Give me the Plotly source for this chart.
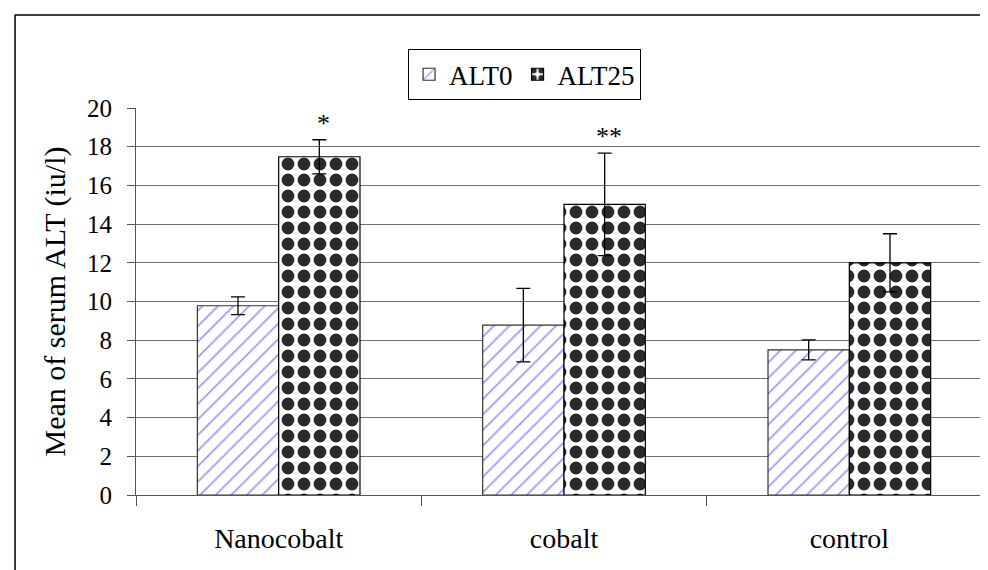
import plotly.graph_objects as go

categories = ["Nanocobalt", "cobalt", "control"]
alt0_values = [9.78, 8.78, 7.5]
alt0_errors = [0.46, 1.9, 0.52]
alt25_values = [17.48, 15.02, 12.0]
alt25_errors = [0.88, 2.65, 1.5]
significance = ["*", "**", ""]
y_ticks = [0, 2, 4, 6, 8, 10, 12, 14, 16, 18, 20]

FONT = "Liberation Serif"

fig = go.Figure()
fig.add_trace(go.Bar(
    name="ALT0", x=categories, y=alt0_values,
    error_y=dict(type="data", array=alt0_errors, color="black", thickness=1.3, width=7),
    marker=dict(color="white", line=dict(color="#333333", width=1.2),
                pattern=dict(shape="/", fgcolor="#9898ff", bgcolor="white", fgopacity=1,
                             size=11, solidity=0.15)),
))
fig.add_trace(go.Bar(
    name="ALT25", x=categories, y=alt25_values,
    error_y=dict(type="data", array=alt25_errors, color="black", thickness=1.3, width=7),
    marker=dict(color="white", line=dict(color="black", width=1.2),
                pattern=dict(shape=".", fgcolor="#2a2a2a", bgcolor="white", fgopacity=1,
                             size=16, solidity=0.5)),
))

plot_w = 988 - 128 - 3.5
plot_h = 387
bar_px = plot_w / 3 * (1 - 0.43) / 2
for cat, v, e, s in zip(categories, alt25_values, alt25_errors, significance):
    if s:
        fig.add_annotation(x=cat, y=v + e, text=s, showarrow=False, xref="x", yref="y",
                           xshift=bar_px / 2 + 4, yanchor="bottom", yshift=0,
                           font=dict(family=FONT, size=26, color="black"))

# outer frame
fig.add_shape(type="rect", xref="paper", yref="paper",
              x0=(7 - 128) / plot_w, x1=1.05, y0=-0.4, y1=1 + (100 - 7) / plot_h,
              line=dict(color="black", width=1.5), fillcolor="rgba(0,0,0,0)", layer="below")

fig.update_layout(
    width=988, height=570,
    margin=dict(l=128, r=3.5, t=100, b=83),
    paper_bgcolor="white", plot_bgcolor="white",
    barmode="group", bargap=0.43, bargroupgap=0,
    font=dict(family=FONT, color="black"),
    showlegend=True,
    legend=dict(orientation="h", x=(400 - 128) / plot_w, xanchor="left",
                y=1 + (100 - 41) / plot_h, yanchor="top",
                bordercolor="black", borderwidth=1.2, bgcolor="white",
                font=dict(family=FONT, size=27, color="black"),
                itemwidth=30, tracegroupgap=0),
    xaxis=dict(showline=True, linecolor="#555555", linewidth=1.2,
               ticks="outside", ticklen=10, tickcolor="#555555", tickson="boundaries",
               tickfont=dict(family=FONT, size=28, color="black"), ticklabelstandoff=18,
               showgrid=False),
    yaxis=dict(range=[0, 20], tickvals=y_ticks, showline=True, linecolor="#555555", linewidth=1.2,
               ticks="outside", ticklen=8, tickcolor="#555555",
               showgrid=True, gridcolor="#6e6e6e", gridwidth=1,
               tickfont=dict(family=FONT, size=25, color="black"), ticklabelstandoff=10,
               title=dict(text="Mean of serum ALT (iu/l)", font=dict(family=FONT, size=30, color="black"),
                          standoff=12),
               zeroline=False),
)

fig.write_html("out.html")
